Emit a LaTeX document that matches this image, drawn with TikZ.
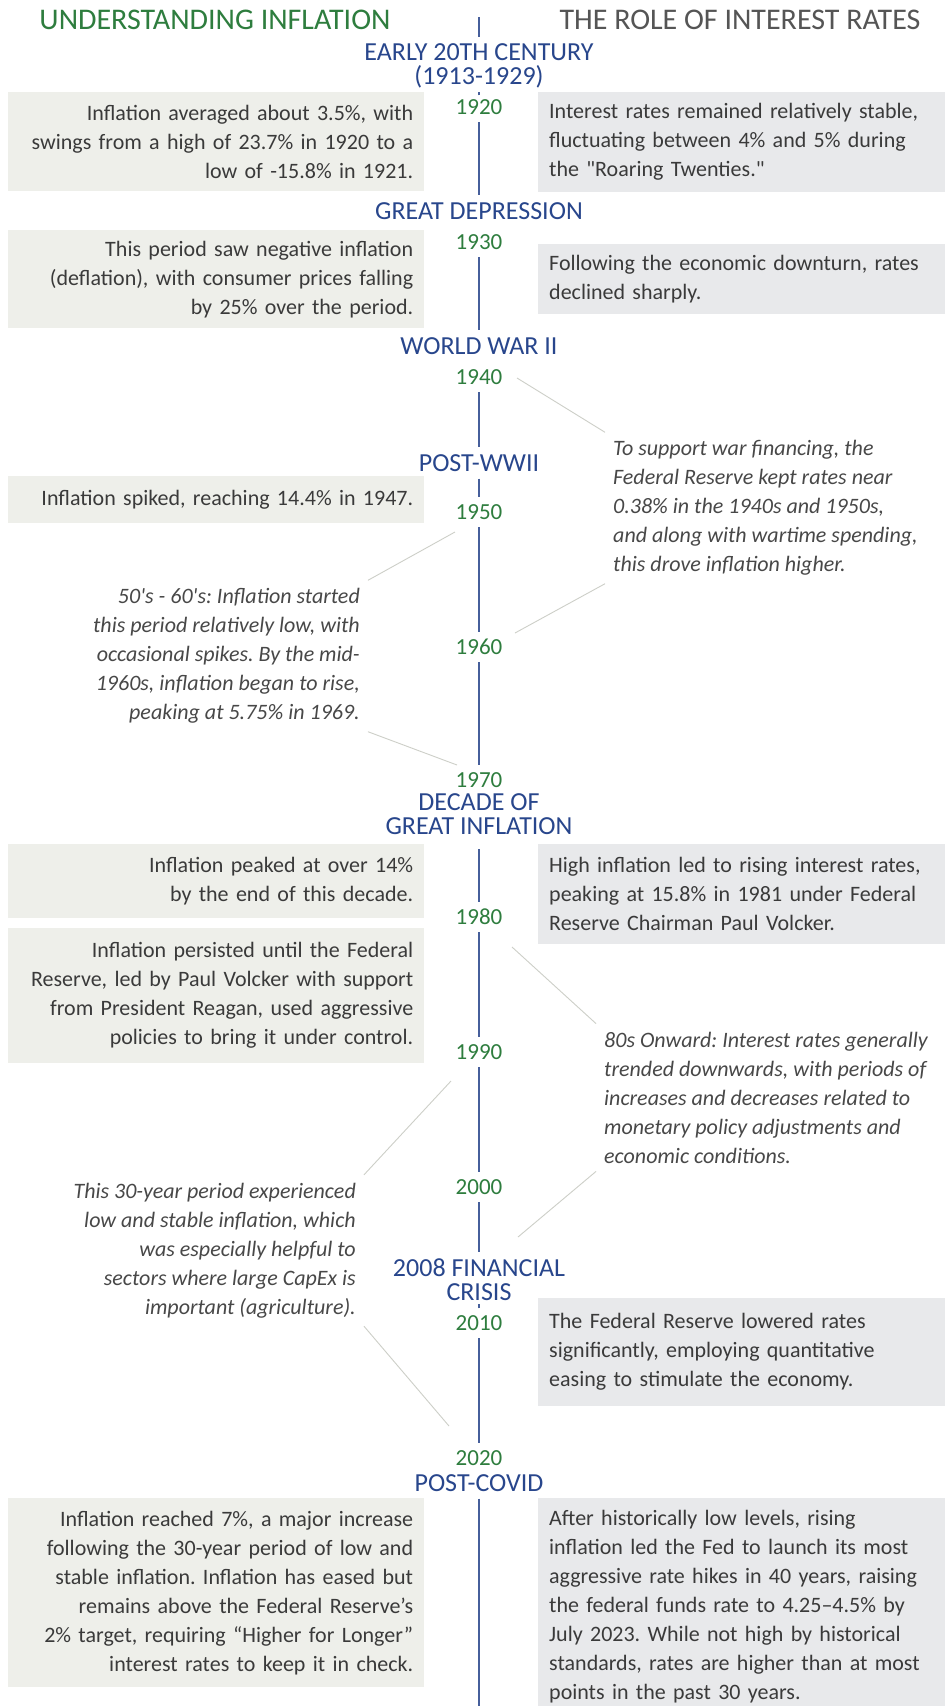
\documentclass[tikz,border=0pt]{standalone}
\usepackage{fontspec}
\setmainfont{Carlito}
\usepackage{tikz}
\usetikzlibrary{positioning}
\usepackage{color}
\frenchspacing

\definecolor{inflgreen}{RGB}{46,125,62}
\definecolor{erablue}{RGB}{40,70,140}
\definecolor{tlblue}{RGB}{70,95,155}
\definecolor{headgray}{RGB}{85,85,85}
\definecolor{bodytext}{RGB}{58,58,58}
\definecolor{notetext}{RGB}{72,72,72}
\definecolor{inflfill}{RGB}{238,239,234}
\definecolor{ratefill}{RGB}{232,233,235}
\definecolor{leadergray}{RGB}{205,207,200}

\tikzset{
  colhead/.style={font=\fontsize{30}{32}\selectfont, inner sep=0pt},
  year/.style={text=inflgreen, font=\fontsize{23}{23}\selectfont, text height=14.5pt, text depth=0pt, inner xsep=4pt, inner ysep=8pt},
  era/.style={text=erablue, font=\fontsize{26}{24}\selectfont, text height=17pt, text depth=0pt, inner xsep=4pt, inner ysep=7pt},
  eratwo/.style={text=erablue, font=\fontsize{26}{24}\selectfont, align=center, inner xsep=4pt, inner ysep=7pt, anchor=north},
  infl/.style={fill=inflfill, text=bodytext, font=\fontsize{22}{29}\selectfont, text width=394pt, align=right, inner xsep=11pt, inner ysep=0pt, anchor=north west},
  rate/.style={fill=ratefill, text=bodytext, font=\fontsize{22}{29}\selectfont, text width=385pt, align=left, inner xsep=11pt, inner ysep=0pt, anchor=north west},
  note/.style={text=notetext, font=\fontsize{22}{29}\selectfont\itshape, inner sep=8pt},
  timeline/.style={draw=tlblue, line width=1.1pt},
  leader/.style={draw=leadergray, line width=0.9pt}
}

\begin{document}
\begin{tikzpicture}[x=1pt, y=-1pt]

  \useasboundingbox (0,0) rectangle (950,1706);
  \fill[white] (0,0) rectangle (950,1706);

  % Column heads
  \node[colhead, text=inflgreen] (inflhead) at (215,20) {UNDERSTANDING INFLATION};
  \node[colhead, text=headgray]  (ratehead) at (740,20) {THE ROLE OF INTEREST RATES};

  % Years on the timeline
  \node[year] (y1920) at (479,107)  {1920};
  \node[year] (y1930) at (479,242)  {1930};
  \node[year] (y1940) at (479,377)  {1940};
  \node[year] (y1950) at (479,512)  {1950};
  \node[year] (y1960) at (479,647)  {1960};
  \node[year] (y1970) at (479,780)  {1970};
  \node[year] (y1980) at (479,917)  {1980};
  \node[year] (y1990) at (479,1052) {1990};
  \node[year] (y2000) at (479,1187) {2000};
  \node[year] (y2010) at (479,1323) {2010};
  \node[year] (y2020) at (479,1458) {2020};

  % Eras
  \node[eratwo] (early) at (479,36.5) {EARLY 20TH CENTURY\\(1913-1929)};
  \node[era, above=0pt of y1930]  (depression) {GREAT DEPRESSION};
  \node[era, above=0pt of y1940]  (ww2) {WORLD WAR II};
  \node[era, above=18pt of y1950] (postwar) {POST-WWII};
  \node[eratwo] (greatinfl) at (479,786) {DECADE OF\\GREAT INFLATION};
  \node[eratwo] (crisis) at (479,1252) {2008 FINANCIAL\\CRISIS};
  \node[era] (covid) at (479,1483) {POST-COVID};

  \coordinate (tltop) at (479,17);
  \coordinate (tlend) at (479,1720);

  % Inflation boxes
  \node[infl, minimum height=99pt] (infl1) at (8,92)
    {Inflation averaged about 3.5\%, with\\swings from a high of 23.7\% in 1920 to a\\low of -15.8\% in 1921.};
  \node[infl, minimum height=98pt] (infl2) at (8,230)
    {This period saw negative inflation\\(deflation), with consumer prices falling\\by 25\% over the period.};
  \node[infl, minimum height=47pt] (infl3) at (8,476)
    {Inflation spiked, reaching 14.4\% in 1947.};
  \node[infl, minimum height=74pt] (infl4) at (8,844)
    {Inflation peaked at over 14\%\\by the end of this decade.};
  \node[infl, minimum height=135pt] (infl5) at (8,928)
    {Inflation persisted until the Federal\\Reserve, led by Paul Volcker with support\\from President Reagan, used aggressive\\policies to bring it under control.};
  \node[infl, minimum height=189pt] (infl6) at (8,1498)
    {Inflation reached 7\%, a major increase\\following the 30-year period of low and\\stable inflation. Inflation has eased but\\remains above the Federal Reserve’s\\2\% target, requiring “Higher for Longer”\\interest rates to keep it in check.};

  % Interest rate boxes
  \node[rate, minimum height=100pt] (rate1) at (538,92)
    {Interest rates remained relatively stable,\\fluctuating between 4\% and 5\% during\\the \textquotedbl Roaring Twenties.\textquotedbl};
  \node[rate, minimum height=70pt] (rate2) at (538,244)
    {Following the economic downturn, rates\\declined sharply.};
  \node[rate, minimum height=100pt] (rate3) at (538,844)
    {High inflation led to rising interest rates,\\peaking at 15.8\% in 1981 under Federal\\Reserve Chairman Paul Volcker.};
  \node[rate, minimum height=108pt] (rate4) at (538,1298)
    {The Federal Reserve lowered rates\\significantly, employing quantitative\\easing to stimulate the economy.};
  \node[rate, minimum height=217pt] (rate5) at (538,1498)
    {After historically low levels, rising\\inflation led the Fed to launch its most\\aggressive rate hikes in 40 years, raising\\the federal funds rate to 4.25–4.5\% by\\July 2023. While not high by historical\\standards, rates are higher than at most\\points in the past 30 years.};

  % Side notes
  \node[note, anchor=west, align=left] (warnote) at (605,508)
    {To support war financing, the\\Federal Reserve kept rates near\\0.38\% in the 1940s and 1950s,\\and along with wartime spending,\\this drove inflation higher.};
  \node[note, anchor=east, align=right] (sixties) at (368,656)
    {50\textquotesingle s - 60\textquotesingle s: Inflation started\\this period relatively low, with\\occasional spikes. By the mid-\\1960s, inflation began to rise,\\peaking at 5.75\% in 1969.};
  \node[note, anchor=west, align=left] (onward) at (596,1097.5)
    {80s Onward: Interest rates generally\\trended downwards, with periods of\\increases and decreases related to\\monetary policy adjustments and\\economic conditions.};
  \node[note, anchor=east, align=right] (thirty) at (364,1250.5)
    {This 30-year period experienced\\low and stable inflation, which\\was especially helpful to\\sectors where large CapEx is\\important (agriculture).};

  % Timeline
  \draw[timeline] (tltop) -- (early);
  \draw[timeline] (early) -- (y1920);
  \draw[timeline] (y1920) -- (depression);
  \draw[timeline] (y1930) -- (ww2);
  \draw[timeline] (y1940) -- (postwar);
  \draw[timeline] (postwar) -- (y1950);
  \draw[timeline] (y1950) -- (y1960);
  \draw[timeline] (y1960) -- (y1970);
  \draw[timeline, shorten <=8pt] (greatinfl) -- (y1980);
  \draw[timeline] (y1980) -- (y1990);
  \draw[timeline] (y1990) -- (y2000);
  \draw[timeline] (y2000) -- (crisis);
  \draw[timeline, shorten >=-4pt] (crisis) -- (y2010);
  \draw[timeline] (y2010) -- (y2020);
  \draw[timeline] (covid) -- (tlend);

  % Leader lines
  \draw[leader] ([shift={(38,1)}]y1940.center) -- (warnote.north west);
  \draw[leader] (warnote.south west) -- ([shift={(36,-14)}]y1960.center);
  \draw[leader] ([shift={(-24,20)}]y1950.center) -- (sixties.north east);
  \draw[leader] (sixties.south east) -- ([shift={(-22,-15)}]y1970.center);
  \draw[leader] ([shift={(33,30)}]y1980.center) -- (onward.north west);
  \draw[leader] (onward.south west) -- ([shift={(39,50)}]y2000.center);
  \draw[leader] ([shift={(-28,29)}]y1990.center) -- (thirty.north east);
  \draw[leader] (thirty.south east) -- ([shift={(-30,-32)}]y2020.center);

\end{tikzpicture}
\end{document}
